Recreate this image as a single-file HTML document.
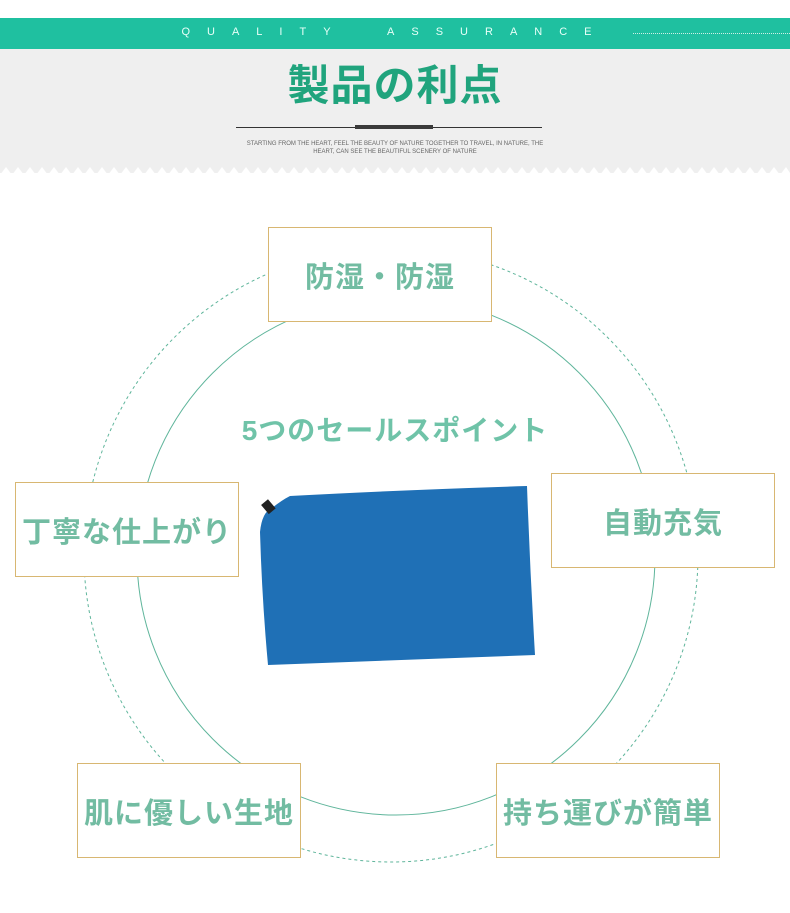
<!DOCTYPE html>
<html><head><meta charset="utf-8"><style>
body{margin:0;width:790px;height:913px;background:#fff;position:relative;overflow:hidden;font-family:"Liberation Sans","Noto Sans CJK JP",sans-serif}
.a{position:absolute}
.box{position:absolute;border:1.5px solid #d8b772;background:#fff;box-sizing:border-box;display:flex;align-items:center;justify-content:center;color:#72bca2;font-weight:bold;font-size:29px;white-space:nowrap;letter-spacing:1px}
</style></head><body>
<div class="a" style="left:0;top:49px;width:790px;height:124px;background:#efefef"></div>
<svg class="a" style="left:0;top:165px" width="790" height="16"><polygon fill="#fff" points="0,16 0,10 6,2 12,10 18,2 24,10 30,2 36,10 42,2 48,10 54,2 60,10 66,2 72,10 78,2 84,10 90,2 96,10 102,2 108,10 114,2 120,10 126,2 132,10 138,2 144,10 150,2 156,10 162,2 168,10 174,2 180,10 186,2 192,10 198,2 204,10 210,2 216,10 222,2 228,10 234,2 240,10 246,2 252,10 258,2 264,10 270,2 276,10 282,2 288,10 294,2 300,10 306,2 312,10 318,2 324,10 330,2 336,10 342,2 348,10 354,2 360,10 366,2 372,10 378,2 384,10 390,2 396,10 402,2 408,10 414,2 420,10 426,2 432,10 438,2 444,10 450,2 456,10 462,2 468,10 474,2 480,10 486,2 492,10 498,2 504,10 510,2 516,10 522,2 528,10 534,2 540,10 546,2 552,10 558,2 564,10 570,2 576,10 582,2 588,10 594,2 600,10 606,2 612,10 618,2 624,10 630,2 636,10 642,2 648,10 654,2 660,10 666,2 672,10 678,2 684,10 690,2 696,10 702,2 708,10 714,2 720,10 726,2 732,10 738,2 744,10 750,2 756,10 762,2 768,10 774,2 780,10 786,2 790,8 790,16"/></svg>
<div class="a" style="left:0;top:18px;width:790px;height:31px;background:#1fc0a0"></div>
<div class="a" style="left:0;top:26px;width:790px;text-align:center;color:#e8fff8;font-size:11px;letter-spacing:17px;text-indent:0px">QUALITY&nbsp; ASSURANCE</div>
<div class="a" style="left:633px;top:33px;width:157px;border-top:1px dotted #cfeee6"></div>
<div class="a" style="left:0;top:52px;width:790px;text-align:center;color:#20a47d;font-size:42px;font-weight:bold;letter-spacing:1px">製品の利点</div>
<div class="a" style="left:236px;top:127px;width:306px;height:1px;background:#333"></div>
<div class="a" style="left:355px;top:125px;width:78px;height:4px;background:#3a3a3a"></div>
<div class="a" style="left:0;top:140px;width:790px;text-align:center;color:#666;font-size:6px;line-height:8px">STARTING FROM THE HEART, FEEL THE BEAUTY OF NATURE TOGETHER TO TRAVEL, IN NATURE, THE<br>HEART, CAN SEE THE BEAUTIFUL SCENERY OF NATURE</div>
<svg class="a" style="left:0;top:0" width="790" height="913">
<circle cx="391" cy="555" r="307" fill="none" stroke="#5fb59b" stroke-width="1" stroke-dasharray="3,3"/>
<circle cx="396" cy="556" r="259" fill="none" stroke="#5fb59b" stroke-width="1"/>
<path d="M290,496 Q400,490 527,486 Q530,570 535,655 Q400,660 268,665 Q262,600 260,532 Q262,512 272,508 Q282,500 290,496 Z" fill="#1f70b6"/>
<rect x="264" y="501" width="9" height="12" fill="#222" transform="rotate(-40 268 507)"/>
</svg>
<div class="a" style="left:0;top:409px;width:790px;text-align:center;color:#6fc3a8;font-size:28px;font-weight:bold;letter-spacing:1px">5つのセールスポイント</div>
<div class="box" style="left:268px;top:227px;width:224px;height:95px">防湿・防湿</div>
<div class="box" style="left:551px;top:473px;width:224px;height:95px">自動充気</div>
<div class="box" style="left:15px;top:482px;width:224px;height:95px">丁寧な仕上がり</div>
<div class="box" style="left:77px;top:763px;width:224px;height:95px">肌に優しい生地</div>
<div class="box" style="left:496px;top:763px;width:224px;height:95px">持ち運びが簡単</div>
</body></html>
